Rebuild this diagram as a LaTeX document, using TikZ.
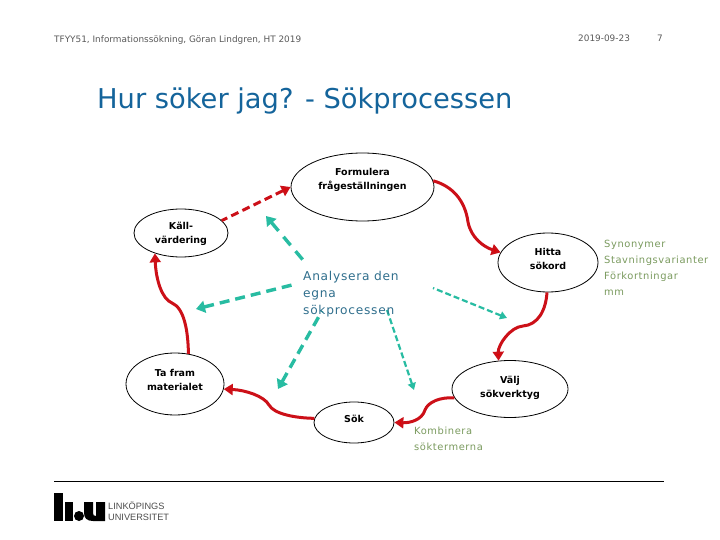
\documentclass[tikz,border=0pt]{standalone}
\usepackage{fontspec}
\setmainfont{DejaVu Sans}
\newfontfamily\wide[LetterSpace=6]{DejaVu Sans}
\newfontfamily\logofont{Liberation Sans}
\usetikzlibrary{shapes.geometric,arrows.meta}
\definecolor{titleblue}{HTML}{14649B}
\definecolor{analys}{HTML}{2F6E8C}
\definecolor{greentxt}{HTML}{7A9A5E}
\definecolor{redline}{HTML}{CC1018}
\definecolor{teal}{HTML}{28BCA2}
\tikzset{
  stage/.style={draw=black,line width=0.8pt,ellipse,inner sep=0pt},
  lbl/.style={font=\bfseries\fontsize{9.5}{14}\selectfont,align=center,text=black},
  flow/.style={draw=redline,line width=3pt,-{Triangle[length=9pt,width=11pt,fill=red!90!black]}},
  back/.style={draw=redline,line width=3pt,dash pattern=on 8pt off 4.4pt,{Triangle[length=9pt,width=11pt,fill=red!90!black]}-},
  refl/.style={draw=teal,line width=3.4pt,dash pattern=on 10pt off 6pt,{Triangle[length=9pt,width=12pt]}-},
  reflthin/.style={draw=teal,line width=2.2pt,dash pattern=on 6pt off 3pt,{Triangle[length=7pt,width=8pt]}-},
  note/.style={anchor=north west,align=left,inner sep=0pt,font=\wide\fontsize{9.9}{16}\selectfont,text=greentxt},
  small/.style={inner sep=0pt,text=black!65,font=\fontsize{8.9}{10}\selectfont},
}
\begin{document}
\begin{tikzpicture}[x=1pt,y=-1pt]
\useasboundingbox (0,0) rectangle (720,540);
% header
\node[small,anchor=west] (hdr) at (54,40) {TFYY51, Informationssökning, Göran Lindgren, HT 2019};
\node[small,anchor=west] (date) at (578,38) {2019-09-23};
\node[small,anchor=center] (pg) at (660,38) {7};
\node[anchor=west,inner sep=0pt,text=titleblue,font=\fontsize{27.3}{30}\selectfont] (title) at (97,101) {Hur söker jag? - Sökprocessen};
% stages
\node[stage,minimum width=143pt,minimum height=68pt] (form) at (362.5,187) {};
\node[lbl] (formt) at (362.5,180) {Formulera\\frågeställningen};
\node[stage,minimum width=94pt,minimum height=48pt] (kall) at (181,233) {};
\node[lbl] (kallt) at (181,233.5) {Käll-\\värdering};
\node[stage,minimum width=100pt,minimum height=59pt] (hitta) at (548,262.5) {};
\node[lbl] (hittat) at (548,258.5) {Hitta\\sökord};
\node[stage,minimum width=116pt,minimum height=57pt] (valj) at (510,389) {};
\node[lbl] (valjt) at (510,388) {Välj\\sökverktyg};
\node[stage,minimum width=98pt,minimum height=62pt] (tafram) at (175,384) {};
\node[lbl] (taframt) at (175,380) {Ta fram\\materialet};
\node[stage,minimum width=80pt,minimum height=41pt] (sok) at (354,422.5) {};
\node[lbl] (sokt) at (354,419) {Sök};
% red connectors
\draw[flow] (form.5) .. controls (452,186) and (465,200) .. (468,222) .. controls (471,238) and (484,247) .. (hitta.168);
\draw[flow] (hitta.268) .. controls (546,310) and (538,325) .. (523,326) .. controls (510,327) and (498,345) .. (valj.112);
\draw[flow] (valj.189) .. controls (440,397) and (428,402) .. (425,410) .. controls (422,420) and (410,423) .. (sok.east);
\draw[flow] (sok.174) .. controls (295,418) and (274,414) .. (269,405) .. controls (264,396) and (245,390) .. (tafram.354);
\draw[flow] (tafram.66) .. controls (188,330) and (184,308) .. (172,303) .. controls (162,299) and (156,280) .. (kall.218);
\draw[back] (form.west) -- (kall.17);
% teal arrows
\coordinate (a1) at (303,260); \coordinate (b1) at (266,216);
\coordinate (a2) at (292,285); \coordinate (b2) at (196,309);
\coordinate (a3) at (322,311); \coordinate (b3) at (278,389);
\coordinate (a4) at (387,310); \coordinate (b4) at (414,390);
\coordinate (a5) at (433,288); \coordinate (b5) at (507,318);
\draw[refl,dash pattern=on 11pt off 7.75pt] (b1) -- (a1);
\draw[refl] (b2) -- (a2);
\draw[refl] (b3) -- (a3);
\draw[reflthin] (b4) -- (a4);
\draw[reflthin] (b5) -- (a5);
% texts
\node[anchor=north west,inner sep=0pt,align=left,text=analys,font=\wide\fontsize{12.2}{16.8}\selectfont] (ana) at (303,271) {Analysera den\\egna\\sökprocessen};
\node[note] (syn) at (604,240) {Synonymer\\Stavningsvarianter\\Förkortningar\\mm};
\node[note] (komb) at (414,427) {Kombinera\\söktermerna};
% rule and logo
\coordinate (r1) at (54,481); \coordinate (r2) at (664,481);
\draw[black,line width=1pt] (r1) -- (r2);
\fill[black] (54,493) rectangle (63,521);
\fill[black] (65,502) rectangle (73,521);
\fill[black] (79,516) circle (5);
\fill[black] (84,502) -- (93,502) -- (93,513) .. controls (93,515) and (94,516) .. (96,516) -- (96,502) -- (105,502) -- (105,521) -- (93,521) .. controls (87,521) and (84,518) .. (84,513) -- cycle;
\node[anchor=west,inner sep=0pt,font=\logofont\fontsize{9.2}{11.5}\selectfont,align=left,text=black!70] (liu) at (108,511) {LINKÖPINGS\\UNIVERSITET};
\end{tikzpicture}
\end{document}
